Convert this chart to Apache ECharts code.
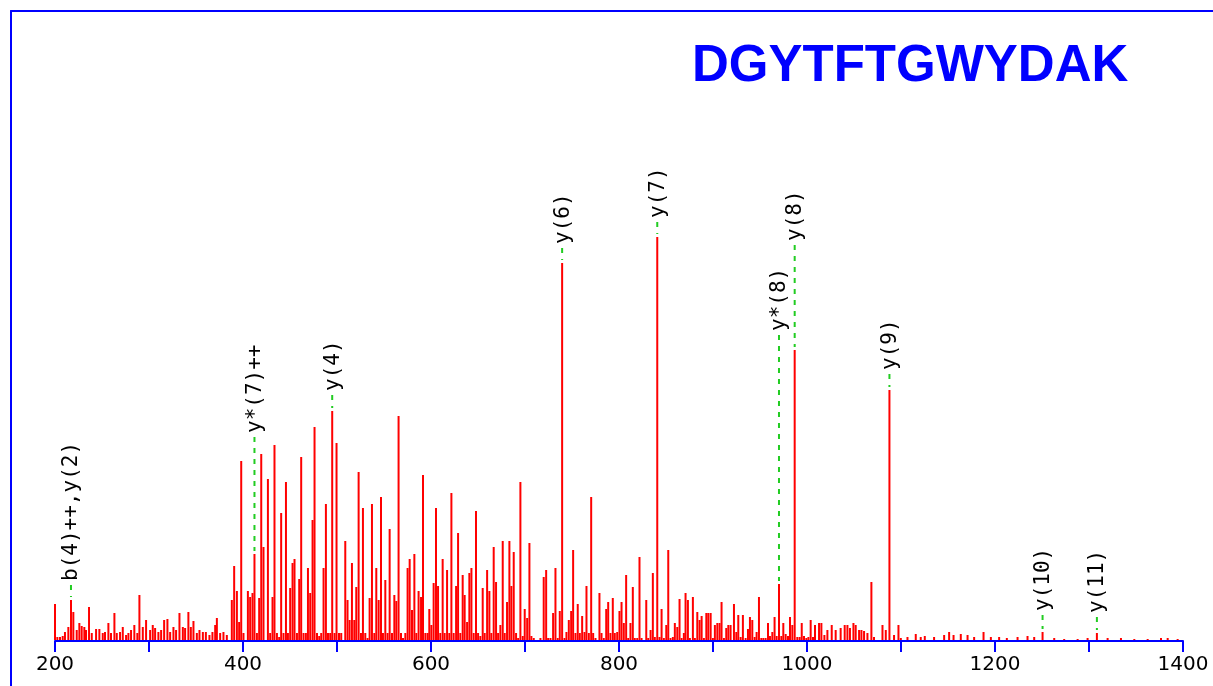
<!DOCTYPE html>
<html>
<head>
<meta charset="utf-8">
<title>DGYTFTGWYDAK</title>
<script src="https://cdn.jsdelivr.net/npm/echarts@6/dist/echarts.min.js"></script>
<style>
  html, body { margin: 0; padding: 0; background: #fff; }
  #chart { width: 1213px; height: 686px; }
</style>
</head>
<body>
<div id="chart"></div>
<script>
const peptide = "DGYTFTGWYDAK";

// [m/z, intensity]
const peaks200to400 = [
  [200.0, 36], [202.5, 3], [205.3, 3], [208.2, 4], [210.6, 8], [214.2, 13], [217.0, 40], [219.5, 28],
  [223.1, 10], [225.9, 17], [228.4, 14], [231.2, 13], [233.0, 10], [236.2, 33], [239.1, 7], [243.7, 11],
  [247.2, 11], [250.8, 7], [253.2, 8], [256.8, 17], [259.6, 7], [263.2, 27], [265.7, 7], [269.2, 8],
  [272.1, 13], [275.6, 5], [278.1, 7], [280.9, 10], [284.4, 15], [287.6, 7], [289.8, 45], [293.4, 13],
  [296.9, 20], [301.2, 10], [304.0, 15], [306.5, 12], [310.0, 8], [312.9, 10], [316.1, 20], [319.6, 21],
  [322.5, 8], [326.0, 13], [328.8, 10], [332.4, 27], [336.0, 13], [338.4, 12], [341.9, 28], [344.5, 13],
  [347.3, 19], [350.9, 7], [353.7, 10], [357.3, 8], [360.5, 8], [364.3, 5], [367.5, 8], [370.4, 15],
  [372.2, 22], [375.7, 7], [379.2, 8], [382.8, 5], [388.1, 40], [390.6, 74], [393.5, 49], [395.9, 18],
  [398.1, 179]
];

const peaks400to600 = [
  [400.5, 7], [405.2, 49], [407.6, 43], [410.1, 47], [412.2, 86], [414.8, 7], [417.2, 42], [419.4, 186],
  [421.8, 93], [426.5, 161], [428.9, 7], [431.4, 43], [433.5, 195], [436.1, 7], [438.5, 3], [440.6, 127],
  [443.1, 7], [445.7, 158], [447.8, 7], [450.2, 52], [452.7, 77], [454.8, 81], [457.4, 7], [459.8, 61],
  [461.9, 183], [464.4, 7], [466.9, 7], [469.1, 72], [471.5, 47], [474.0, 120], [476.1, 213], [478.7, 7],
  [481.1, 4], [483.2, 7], [485.7, 72], [488.2, 136], [490.4, 7], [492.8, 7], [494.9, 229], [497.4, 7],
  [499.5, 197], [502.1, 7], [504.5, 7], [508.8, 99], [511.2, 40], [513.4, 20], [515.9, 77], [518.4, 20],
  [520.5, 53], [523.0, 168], [525.5, 7], [527.6, 132], [530.1, 7], [532.5, 2], [534.7, 42], [537.2, 136],
  [539.7, 7], [541.8, 72], [544.3, 40], [546.8, 143], [548.9, 7], [551.4, 60], [553.8, 7], [556.0, 111],
  [558.5, 7], [561.0, 45], [563.1, 39], [565.5, 224], [568.1, 7], [570.2, 2], [572.7, 7], [575.1, 72],
  [577.3, 81], [579.8, 30], [582.3, 86], [584.4, 7], [586.8, 49], [589.4, 43], [591.5, 165], [594.0, 7],
  [596.4, 7], [598.2, 31]
];

const peaks600to800 = [
  [600.4, 15], [602.8, 57], [605.3, 132], [607.5, 54], [609.9, 7], [612.4, 81], [614.5, 7], [617.1, 70],
  [619.5, 7], [621.7, 147], [624.1, 7], [626.7, 54], [628.8, 107], [631.2, 7], [633.7, 65], [635.8, 45],
  [638.4, 18], [640.8, 67], [643.0, 72], [645.4, 7], [647.9, 129], [650.1, 7], [652.5, 4], [655.0, 52],
  [657.1, 7], [659.7, 70], [662.1, 49], [664.2, 7], [666.7, 93], [669.2, 58], [671.4, 7], [673.8, 15],
  [676.3, 99], [678.4, 7], [680.9, 38], [683.4, 99], [685.5, 54], [688.0, 88], [690.5, 7], [692.7, 2],
  [695.1, 158], [697.6, 4], [699.7, 31], [702.3, 22], [704.7, 97], [706.8, 4], [709.3, 2], [716.4, 2],
  [719.9, 63], [722.5, 70], [724.6, 2], [727.1, 2], [729.9, 27], [732.4, 72], [734.8, 2], [737.0, 29],
  [739.5, 377], [742.0, 2], [744.1, 8], [746.6, 20], [749.1, 29], [751.2, 90], [753.7, 7], [756.1, 36],
  [758.3, 7], [760.8, 24], [763.3, 8], [765.4, 54], [767.9, 7], [770.4, 143], [772.5, 7], [775.0, 2],
  [779.2, 47], [781.4, 7], [783.8, 2], [786.4, 31], [788.5, 38], [790.9, 7], [793.4, 42], [795.5, 7],
  [798.1, 8]
];

const peaks800to1000 = [
  [800.5, 29], [802.7, 38], [805.1, 17], [807.6, 65], [809.8, 2], [812.2, 17], [814.7, 53], [816.8, 2],
  [819.4, 2], [821.8, 83], [824.0, 2], [829.0, 40], [831.1, 2], [833.6, 10], [836.0, 67], [838.1, 3],
  [840.7, 403], [843.1, 3], [845.3, 31], [847.7, 2], [850.3, 15], [852.4, 90], [854.8, 2], [857.3, 3],
  [859.4, 17], [862.0, 13], [864.4, 41], [866.6, 2], [869.0, 7], [870.8, 47], [873.3, 40], [875.4, 2],
  [878.6, 43], [880.7, 2], [883.3, 28], [885.7, 20], [887.9, 24], [890.3, 2], [892.9, 27], [895.0, 27],
  [897.5, 27], [899.9, 2], [902.0, 15], [904.6, 17], [907.0, 17], [909.1, 38], [911.6, 2], [914.1, 12],
  [916.3, 15], [918.7, 15], [922.3, 36], [924.8, 8], [926.9, 25], [929.4, 3], [931.8, 25], [934.7, 2],
  [937.2, 11], [939.3, 23], [941.8, 20], [944.3, 3], [946.4, 8], [948.9, 43], [951.4, 2], [953.6, 2],
  [956.0, 2], [958.5, 17], [960.6, 4], [963.1, 8], [965.5, 23], [967.7, 4], [970.2, 56], [972.7, 4],
  [974.8, 17], [977.3, 6], [979.8, 4], [981.9, 23], [984.4, 15], [986.9, 290], [989.7, 3], [992.2, 3],
  [994.4, 17], [996.8, 4], [999.3, 2]
];

const peaks1000to1400 = [
  [1001.5, 3], [1003.9, 20], [1006.4, 3], [1008.5, 15], [1012.8, 17], [1015.3, 17], [1018.5, 5], [1021.7, 10],
  [1026.3, 15], [1030.5, 10], [1035.8, 12], [1040.1, 15], [1043.0, 15], [1045.7, 12], [1049.4, 17], [1051.8, 15],
  [1055.4, 10], [1057.9, 10], [1060.7, 9], [1064.3, 7], [1068.5, 58], [1071.3, 3], [1080.3, 15], [1083.8, 10],
  [1087.7, 250], [1092.6, 5], [1097.3, 15], [1099.8, 2], [1106.9, 3], [1115.7, 6], [1121.0, 3], [1125.3, 4],
  [1135.2, 3], [1145.9, 5], [1151.2, 8], [1155.9, 5], [1163.6, 6], [1170.8, 5], [1177.8, 3], [1187.8, 8],
  [1195.6, 3], [1204.4, 3], [1212.6, 2], [1224.0, 3], [1234.6, 4], [1241.7, 3], [1250.6, 8], [1263.0, 2],
  [1273.6, 1], [1287.9, 1], [1298.5, 2], [1308.4, 7], [1319.8, 2], [1334.0, 2], [1348.2, 1], [1362.4, 1],
  [1376.6, 2], [1383.7, 2], [1394.3, 1]
];

// annotated fragment ions: position, peak height, height where the label starts
const annMz = [217.0, 412.2, 494.9, 739.5, 840.7, 970.2, 986.9, 1087.7, 1250.6, 1308.4];
const annPeak = [40, 86, 229, 377, 403, 56, 290, 250, 8, 7];
const annLevel = [55, 203, 245, 392, 418, 305, 395, 266, 25, 23];
const annText = ["b(4)++,y(2)", "y*(7)++", "y(4)", "y(6)", "y(7)", "y*(8)", "y(8)", "y(9)", "y(10)", "y(11)"];

const xTickLabels = [200, 400, 600, 800, 1000, 1200, 1400];

const BLUE = "#0000ff";
const chart = echarts.init(document.getElementById("chart"));

const peaks = [].concat(peaks200to400, peaks400to600, peaks600to800, peaks800to1000, peaks1000to1400);
const annData = annMz.map((m, i) => [m, annPeak[i], annLevel[i]]);

function renderLabel(params, api) {
  const top = api.coord([api.value(0), api.value(1)]);
  const end = api.coord([api.value(0), api.value(2)]);
  return {
    type: "group",
    children: [
      {
        type: "line",
        shape: { x1: end[0], y1: end[1], x2: top[0], y2: top[1] - 3 },
        style: { stroke: "#22cc22", lineWidth: 2, lineDash: [5, 6] }
      },
      {
        type: "text",
        x: end[0] + 1,
        y: end[1] - 4,
        rotation: Math.PI / 2,
        style: {
          text: annText[params.dataIndex],
          fill: "#000",
          font: "21px 'DejaVu Sans Mono'",
          align: "left",
          verticalAlign: "middle"
        }
      }
    ]
  };
}

const frameLine = { show: true, onZero: false, lineStyle: { color: BLUE, width: 2 } };

chart.setOption({
  animation: false,
  title: {
    text: peptide,
    left: 692,
    top: 41,
    padding: 0,
    textStyle: { color: BLUE, fontFamily: "Liberation Sans", fontWeight: "bold", fontSize: 51 }
  },
  grid: [
    { left: 55, right: 30, top: 11, bottom: 46 },
    { left: 11, right: -20, top: 11, bottom: -20 }
  ],
  xAxis: [
    {
      type: "value",
      gridIndex: 0,
      min: 200,
      max: 1400,
      interval: 100,
      offset: 1,
      axisLine: frameLine,
      axisTick: { show: true, length: 11, lineStyle: { color: BLUE, width: 2 } },
      axisLabel: {
        color: "#000",
        fontFamily: "DejaVu Sans",
        fontSize: 20,
        margin: 14,
        formatter: (v) => (xTickLabels.includes(v) ? String(v) : "")
      },
      splitLine: { show: false }
    },
    {
      type: "value",
      gridIndex: 1,
      min: 0,
      max: 1,
      position: "top",
      axisLine: frameLine,
      axisTick: { show: false },
      axisLabel: { show: false },
      splitLine: { show: false }
    }
  ],
  yAxis: [
    { type: "value", gridIndex: 0, min: 0, max: 629, show: false },
    {
      type: "value",
      gridIndex: 1,
      min: 0,
      max: 1,
      position: "left",
      axisLine: frameLine,
      axisTick: { show: false },
      axisLabel: { show: false },
      splitLine: { show: false }
    }
  ],
  series: [
    {
      name: "peaks",
      type: "bar",
      xAxisIndex: 0,
      yAxisIndex: 0,
      barWidth: 2,
      silent: true,
      itemStyle: { color: "#ff0000" },
      data: peaks
    },
    {
      name: "labels",
      type: "custom",
      xAxisIndex: 0,
      yAxisIndex: 0,
      silent: true,
      z: 5,
      renderItem: renderLabel,
      data: annData
    }
  ]
});

window.addEventListener("resize", () => chart.resize());
</script>
</body>
</html>
